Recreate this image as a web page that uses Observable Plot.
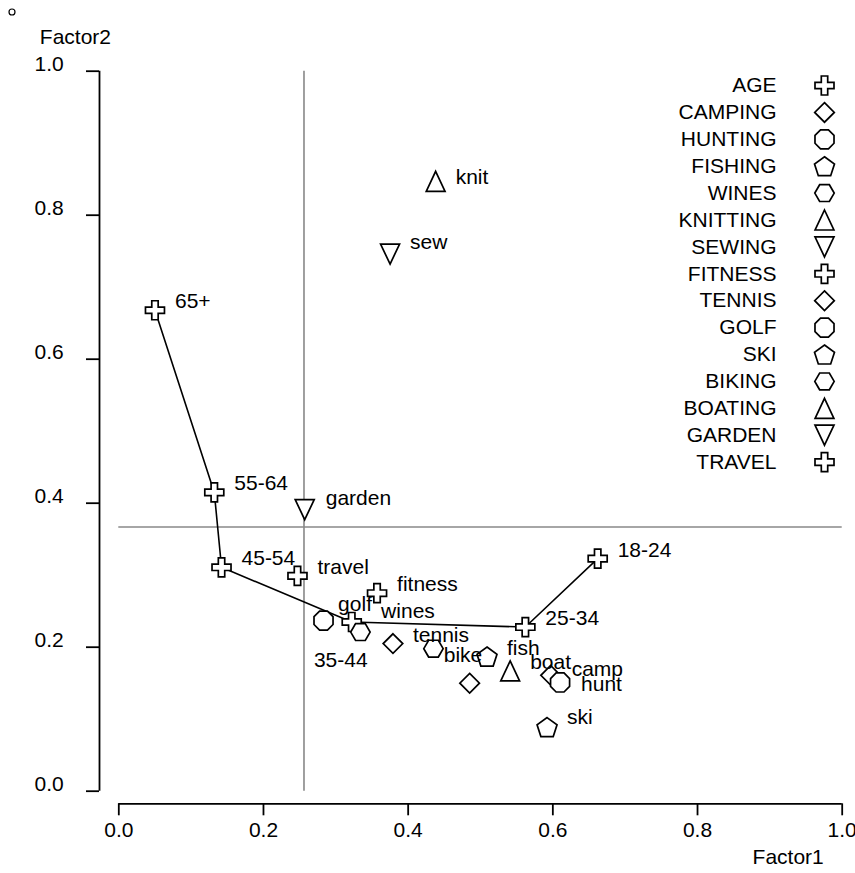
<!DOCTYPE html>
<html><head><meta charset="utf-8">
<script src="https://cdn.jsdelivr.net/npm/d3@7"></script>
<script src="https://cdn.jsdelivr.net/npm/@observablehq/plot@0.6"></script>
<style>
body{margin:0;background:#fff;}
#wrap{position:relative;width:855px;height:873px;}
#legend{position:absolute;left:655px;top:0;}
</style></head><body><div id="wrap"></div>
<script>
// ---- data ----
const ageLevels = ["18-24","25-34","35-44","45-54","55-64","65+"];
const ageF1 = [0.662,0.562,0.322,0.142,0.132,0.050];
const ageF2 = [0.323,0.228,0.235,0.311,0.415,0.668];

const hobbyCats   = ["CAMPING","HUNTING","FISHING","WINES","KNITTING","SEWING","FITNESS","TENNIS","GOLF","SKI","BIKING","BOATING","GARDEN","TRAVEL"];
const hobbyLabels = ["camp","hunt","fish","wines","knit","sew","fitness","tennis","golf","ski","bike","boat","garden","travel"];
const hobbyF1 = [0.597,0.610,0.509,0.334,0.438,0.375,0.357,0.379,0.283,0.592,0.435,0.541,0.257,0.247];
const hobbyF2 = [0.161,0.151,0.187,0.221,0.847,0.746,0.275,0.205,0.237,0.089,0.198,0.167,0.391,0.299];
// an unlabeled diamond visible in the picture
const extraCats = ["CAMPING"];
const extraF1 = [0.485];
const extraF2 = [0.150];

const legendCats = ["AGE", ...hobbyCats];
const xTicks = [0,0.2,0.4,0.6,0.8,1.0];
const yTicks = [0,0.2,0.4,0.6,0.8,1.0];
const refF1 = [0.256];
const refF2 = [0.367];

// ---- layout (label nudges, in px) ----
const defaultNudge = {dx: 20, dy: -2, anchor: "start"};
const labelNudge = {
  "35-44": {dx: -11, dy: 45, anchor: "middle"},
  golf: {dx: 14.6, dy: -9.3}, wines: {dx: 20.7, dy: -14}, bike: {dx: 10.3, dy: 13.7},
  hunt: {dx: 21, dy: 8.5}, camp: {dx: 21, dy: 1}, knit: {dx: 20, dy: 2.6},
  sew: {dx: 20, dy: -5}, garden: {dx: 21, dy: -4.3}, ski: {dx: 20, dy: -3.4}
};

// ---- symbols ----
function poly(pts) {
  return {draw(ctx, size) {
    const r = Math.sqrt(size / Math.PI);
    pts.forEach(([x, y], i) => i ? ctx.lineTo(x * r, y * r) : ctx.moveTo(x * r, y * r));
    ctx.closePath();
  }};
}
function regular(n, start, rad, oy = 0) {
  return d3.range(n).map(k => {
    const a = (start + k * 360 / n) * Math.PI / 180;
    return [rad * Math.cos(a), rad * Math.sin(a) + oy];
  });
}
const w = 0.32, L = 0.95;
const shapes = [
  poly([[-w,-L],[w,-L],[w,-w],[L,-w],[L,w],[w,w],[w,L],[-w,L],[-w,w],[-L,w],[-L,-w],[-w,-w]]), // cross
  poly([[0,-0.98],[0.98,0],[0,0.98],[-0.98,0]]),                                                 // diamond
  poly(regular(8, 22.5, 1.03)),                                                                   // octagon
  poly(regular(5, -90, 1.05, 0.1)),                                                               // pentagon
  poly(regular(6, 0, 0.97)),                                                                      // hexagon
  poly([[0,-1],[0.94,1],[-0.94,1]]),                                                              // triangle
  poly([[0,1],[0.95,-1],[-0.95,-1]])                                                              // inverted triangle
];
const shapeIndex = cat => legendCats.indexOf(cat) % 7;

// ---- tables ----
const ageData = ageLevels.map((lab, i) => ({cat: "AGE", label: lab, x: ageF1[i], y: ageF2[i]}));
const hobbyData = hobbyCats.map((c, i) => ({cat: c, label: hobbyLabels[i], x: hobbyF1[i], y: hobbyF2[i]}));
const extraData = extraCats.map((c, i) => ({cat: c, label: "", x: extraF1[i], y: extraF2[i]}));
const allPts = [...ageData, ...hobbyData, ...extraData];

const font = "'Liberation Sans', Arial, Helvetica, sans-serif";
const FS = 21;
const symStyle = {fill: "white", stroke: "black", strokeWidth: 1.7, r: 10};

const marks = [
  Plot.ruleX(refF1, {y1: 0, y2: 1, stroke: "#888", strokeWidth: 1.6}),
  Plot.ruleY(refF2, {x1: 0, x2: 1, stroke: "#888", strokeWidth: 1.6}),
  // axes (offset from the frame)
  Plot.ruleY([0], {x1: 0, x2: 1, dy: 12.6, stroke: "black", strokeWidth: 1.8}),
  Plot.ruleX([0], {y1: 0, y2: 1, dx: -19.3, stroke: "black", strokeWidth: 1.8}),
  Plot.axisX(xTicks, {tickSize: 12, tickFormat: () => "", label: null, dy: 12.6, strokeWidth: 1.8}),
  Plot.axisY(yTicks, {tickSize: 13, tickFormat: () => "", label: null, dx: -19.3, strokeWidth: 1.8}),
  Plot.text(xTicks, {x: d => d, y: 0, dy: 45.3, text: d => d.toFixed(1), textAnchor: "middle", lineAnchor: "bottom", fontSize: FS}),
  Plot.text(yTicks, {x: 0, y: d => d, dx: -55, text: d => d.toFixed(1), textAnchor: "end", lineAnchor: "bottom", fontSize: FS}),
  Plot.text(["Factor2"], {frameAnchor: "top-left", dx: -79, dy: -27.4, textAnchor: "start", lineAnchor: "bottom", fontSize: FS}),
  Plot.text(["Factor1"], {frameAnchor: "bottom-right", dx: -18.4, dy: 73, textAnchor: "end", lineAnchor: "bottom", fontSize: FS}),
  Plot.dot(["°"], {frameAnchor: "top-left", dx: 11.5 - 118.3, dy: 11.5 - 70.7, r: 3, stroke: "black", strokeWidth: 1.2}),
  // age path
  Plot.line(ageData, {x: "x", y: "y", stroke: "black", strokeWidth: 1.6}),
  // symbols
  ...shapes.map((s, k) => Plot.dot(allPts, {filter: d => shapeIndex(d.cat) === k, x: "x", y: "y", symbol: s, ...symStyle})),
  // labels
  ...allPts.filter(d => d.label).map(d => {
    const n = {...defaultNudge, ...(labelNudge[d.label] || {})};
    return Plot.text([d], {x: "x", y: "y", text: "label", dx: n.dx, dy: n.dy, textAnchor: n.anchor || "start", lineAnchor: "bottom", fontSize: FS});
  })
];

const chart = Plot.plot({
  width: 855, height: 873,
  marginLeft: 118.3, marginRight: 13.3, marginTop: 70.7, marginBottom: 82.3,
  x: {domain: [0, 1], label: null}, y: {domain: [0, 1], label: null},
  style: {fontFamily: font, fontSize: FS + "px", color: "black", background: "white"},
  marks
});

const legH = 490, legTop = 85, legStep = 26.9;
const legend = Plot.plot({
  width: 200, height: legH,
  marginTop: legTop, marginBottom: legH - (legTop + legStep * (legendCats.length - 1)),
  marginLeft: 121, marginRight: 31,
  y: {type: "point", domain: legendCats, padding: 0, round: false, axis: null},
  style: {fontFamily: font, fontSize: FS + "px", color: "black", background: "transparent"},
  marks: [
    Plot.text(legendCats, {y: d => d, frameAnchor: "left", textAnchor: "end", lineAnchor: "middle", fontSize: FS}),
    ...shapes.map((s, k) => Plot.dot(legendCats, {filter: c => shapeIndex(c) === k, y: d => d, frameAnchor: "right", symbol: s, ...symStyle}))
  ]
});
legend.id = "legend";

const wrap = document.getElementById("wrap");
wrap.appendChild(chart);
wrap.appendChild(legend);
</script>
</body></html>
